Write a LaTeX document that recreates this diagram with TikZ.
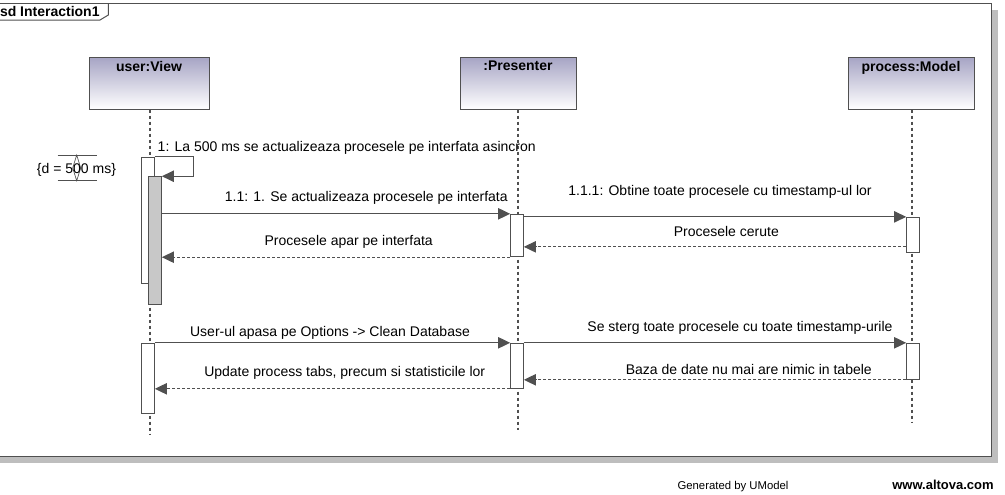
\documentclass[tikz,border=0pt]{standalone}
\usepackage{fontspec}
\setmainfont{Liberation Sans}
\usetikzlibrary{arrows.meta, calc, positioning}
\definecolor{umlline}{RGB}{80,80,80}
\definecolor{umlhead}{RGB}{166,164,196}
\definecolor{umlgray}{RGB}{200,200,200}
\definecolor{umlshadow}{RGB}{190,190,190}

\begin{document}
\begin{tikzpicture}[x=0.75pt, y=-0.75pt, line width=0.75pt,
    every node/.style={font=\fontsize{10.5}{12}\selectfont, inner sep=0pt},
    lbl/.style={anchor=base},
    head/.style={draw=umlline, top color=umlhead, bottom color=white, minimum height=39pt},
    headlbl/.style={font=\fontsize{10.5}{12}\selectfont\bfseries, below=3pt of #1},
    act/.style={draw=umlline, fill=white, minimum width=9.5pt},
    msg/.style={draw=umlline, -{Triangle[length=9pt, width=8.5pt]}},
    ret/.style={msg, dash pattern=on 2.25pt off 1.5pt},
    lifeline/.style={draw=umlline, line width=1.5pt, dash pattern=on 2.25pt off 2.25pt},
    ]
    \useasboundingbox (0,0) rectangle (1005,494);
    % frame
    \fill[umlshadow] (-1,10) rectangle (998,463);
    \draw[umlline, fill=white] (-8,3) rectangle (991,456);
    \draw[umlline] (-8,20) -- (100,20) -- (108.3,15) -- (108.3,3);
    \node[font=\fontsize{10.5}{12}\selectfont\bfseries, anchor=base west] (title) at (-0.5,16) {sd Interaction1};

    % lifelines
    \node[head, minimum width=90pt] (user) at (149,83) {};
    \node[head, minimum width=87pt] (pres) at (518,83) {};
    \node[head, minimum width=94.5pt] (model) at (911,83) {};
    \node[headlbl=user.north] (userLbl) {user:View};
    \node[headlbl=pres.north] (presLbl) {:Presenter};
    \node[headlbl=model.north] (modelLbl) {process:Model};
    \coordinate (userEnd) at (149.5,435);
    \coordinate (presEnd) at (517.5,430);
    \coordinate (modelEnd) at (911.5,422);
    \draw[lifeline] (userEnd |- user.south) -- (userEnd);
    \draw[lifeline] (presEnd |- pres.south) -- (presEnd);
    \draw[lifeline] (modelEnd |- model.south) -- (modelEnd);

    % activations
    \node[act, minimum height=94.5pt] (uOuter) at (147.7,220) {};
    \node[act, fill=umlgray, minimum height=95.5pt] (uGray) at (155,240.4) {};
    \node[act, minimum height=31.8pt] (pAct1) at (517,235.5) {};
    \node[act, minimum height=26pt] (mAct1) at (913,234.7) {};
    \node[act, minimum height=52.5pt] (uAct2) at (148,378.3) {};
    \node[act, minimum height=33.75pt] (pAct2) at (517,365.8) {};
    \node[act, minimum height=27pt] (mAct2) at (913,361.3) {};

    % duration constraint
    \draw[umlline] (57.7,155) -- (96.7,155);
    \draw[umlline] (57.7,180.7) -- (96.7,180.7);
    \draw[umlline, line width=0.5pt] (76.7,155) -- (80.7,168) -- (76.7,180.7) -- (72.7,168) -- cycle;
    \node[lbl] (dur) at (76.5,173) {\{d = 500 ms\}};

    % messages
    \draw[msg] (uOuter.north east) -- ++(39,0) |- (uGray.north east);
    \node[lbl] (m1) at (346.7,151.7) {1: La 500 ms se actualizeaza procesele pe interfata asincron};
    \draw[msg] (pAct1.north west -| uGray.east) -- (pAct1.north west);
    \node[lbl] (m11) at (366.3,201.7) {1.1: 1. Se actualizeaza procesele pe interfata};
    \draw[ret] (pAct1.south west) -- (pAct1.south west -| uGray.east);
    \node[lbl] (r11) at (348.7,245) {Procesele apar pe interfata};
    \draw[msg] (mAct1.north west -| pAct1.east) -- (mAct1.north west);
    \node[lbl] (m111) at (720,195.7) {1.1.1: Obtine toate procesele cu timestamp-ul lor};
    \draw[ret] ($(mAct1.south west)+(0,-5.7)$) -- ($(mAct1.south west -| pAct1.east)+(0,-5.7)$);
    \node[lbl] (r111) at (726.3,236) {Procesele cerute};

    \draw[msg] (uAct2.north east) -- (pAct2.north west);
    \node[lbl] (m2) at (330,336.7) {User-ul apasa pe Options -> Clean Database};
    \draw[ret] (pAct2.south west) -- (pAct2.south west -| uAct2.east);
    \node[lbl] (r2) at (344.7,376.7) {Update process tabs, precum si statisticile lor};
    \draw[msg] (pAct2.north east) -- (mAct2.north west);
    \node[lbl] (m21) at (740,331.7) {Se sterg toate procesele cu toate timestamp-urile};
    \draw[ret] (mAct2.south west) -- (mAct2.south west -| pAct2.east);
    \node[lbl] (r21) at (748.8,374) {Baza de date nu mai are nimic in tabele};

    % footer
    \node[lbl, font=\fontsize{8.5}{10}\selectfont] (gen) at (733,489) {Generated by UModel};
    \node[lbl, font=\fontsize{9.75}{11}\selectfont\bfseries] (web) at (943,489) {www.altova.com};
\end{tikzpicture}
\end{document}
